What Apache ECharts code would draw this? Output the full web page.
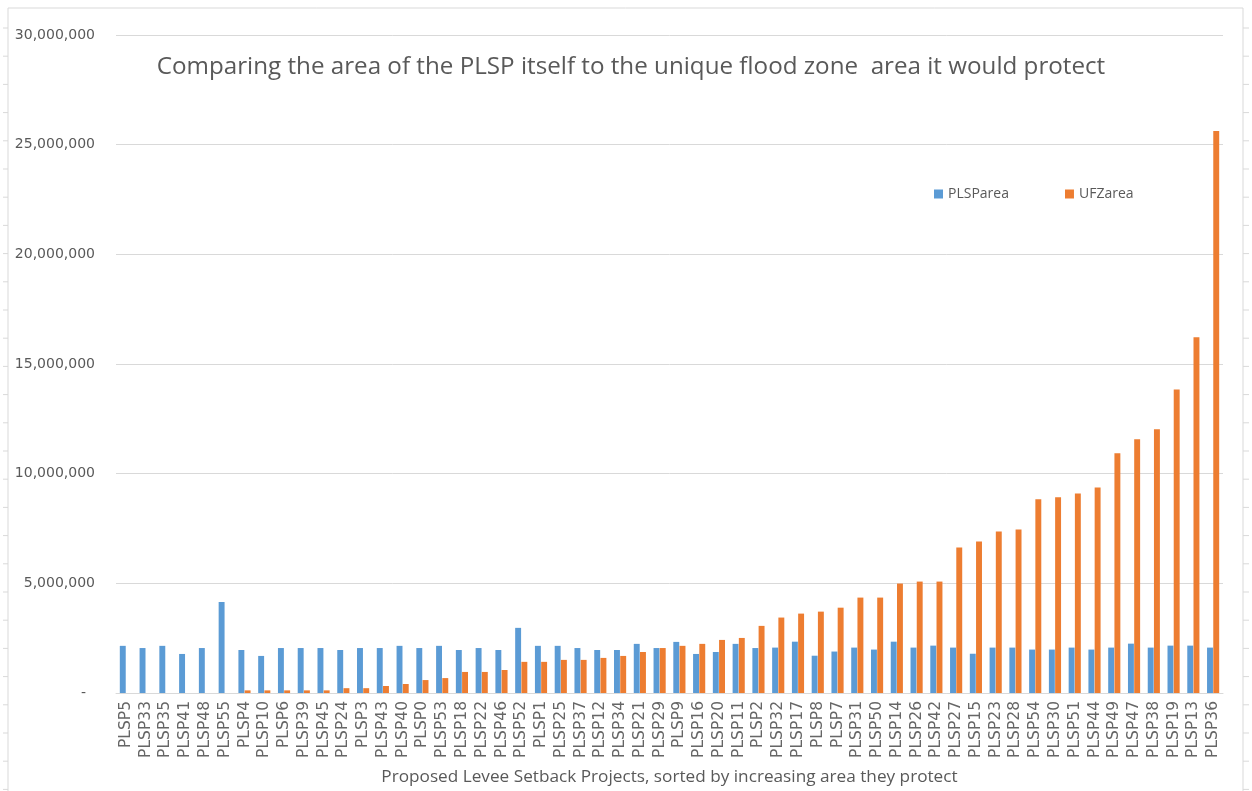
<!DOCTYPE html>
<html>
<head>
<meta charset="utf-8">
<title>PLSP area vs unique flood zone area</title>
<script src="https://cdn.jsdelivr.net/npm/echarts@6/dist/echarts.min.js"></script>
<style>
  html, body { margin: 0; padding: 0; background: #ffffff; overflow: hidden; }
  #chart { width: 1252px; height: 791px; }
</style>
</head>
<body>
<div id="chart"></div>
<script>
// Projects, sorted by the unique flood zone area they protect
const projects = [
  'PLSP5', 'PLSP33', 'PLSP35', 'PLSP41', 'PLSP48', 'PLSP55', 'PLSP4', 'PLSP10',
  'PLSP6', 'PLSP39', 'PLSP45', 'PLSP24', 'PLSP3', 'PLSP43', 'PLSP40', 'PLSP0',
  'PLSP53', 'PLSP18', 'PLSP22', 'PLSP46', 'PLSP52', 'PLSP1', 'PLSP25', 'PLSP37',
  'PLSP12', 'PLSP34', 'PLSP21', 'PLSP29', 'PLSP9', 'PLSP16', 'PLSP20', 'PLSP11',
  'PLSP2', 'PLSP32', 'PLSP17', 'PLSP8', 'PLSP7', 'PLSP31', 'PLSP50', 'PLSP14',
  'PLSP26', 'PLSP42', 'PLSP27', 'PLSP15', 'PLSP23', 'PLSP28', 'PLSP54', 'PLSP30',
  'PLSP51', 'PLSP44', 'PLSP49', 'PLSP47', 'PLSP38', 'PLSP19', 'PLSP13', 'PLSP36'
];

// Area of each setback project itself
const plspArea = [
  2150000, 2050000, 2150000, 1780000, 2050000, 4150000, 1960000, 1690000,
  2050000, 2050000, 2050000, 1960000, 2050000, 2050000, 2150000, 2050000,
  2150000, 1960000, 2050000, 1960000, 2970000, 2150000, 2150000, 2050000,
  1960000, 1960000, 2240000, 2050000, 2330000, 1780000, 1870000, 2240000,
  2050000, 2070000, 2340000, 1700000, 1890000, 2070000, 1980000, 2340000,
  2070000, 2160000, 2070000, 1790000, 2070000, 2070000, 1980000, 1980000,
  2070000, 1980000, 2070000, 2250000, 2070000, 2160000, 2160000, 2070000
];

// Unique flood zone area each project would protect
const ufzArea = [
  0, 0, 0, 0, 0, 0, 120000, 120000,
  120000, 120000, 120000, 220000, 220000, 320000, 410000, 590000,
  680000, 960000, 960000, 1050000, 1420000, 1420000, 1510000, 1510000,
  1600000, 1690000, 1870000, 2050000, 2150000, 2240000, 2420000, 2510000,
  3060000, 3440000, 3620000, 3710000, 3890000, 4350000, 4350000, 4990000,
  5080000, 5080000, 6630000, 6910000, 7360000, 7450000, 8830000, 8920000,
  9100000, 9370000, 10930000, 11570000, 12020000, 13840000, 16220000, 25620000
];

const yMin = 0;
const yMax = 30000000;
const yStep = 5000000;

const seriesNames = ['PLSParea', 'UFZarea'];
const titleText = 'Comparing the area of the PLSP itself to the unique flood zone  area it would protect';
const xAxisTitle = 'Proposed Levee Setback Projects, sorted by increasing area they protect';

const textGray = '#595959';
const gridGray = '#d9d9d9';
const font = '"Open Sans", "Liberation Sans", sans-serif';
const tickFont = '"DejaVu Sans", "Open Sans", sans-serif';

// Light frame with ruler-style ticks around the chart area
const frame = [];
frame.push({
  type: 'rect',
  shape: { x: 8, y: 8, width: 1235, height: 800 },
  style: { fill: 'none', stroke: gridGray, lineWidth: 1 },
  silent: true
});
for (let y = 28; y < 791; y += 28.2) {
  frame.push({ type: 'line', shape: { x1: 3, y1: y, x2: 8, y2: y }, style: { stroke: gridGray, lineWidth: 1 }, silent: true });
  frame.push({ type: 'line', shape: { x1: 1243, y1: y, x2: 1249, y2: y }, style: { stroke: gridGray, lineWidth: 1 }, silent: true });
}

const chart = echarts.init(document.getElementById('chart'), null, { renderer: 'canvas' });

chart.setOption({
  animation: false,
  backgroundColor: '#ffffff',
  title: {
    text: titleText,
    left: 626,
    top: 50,
    textAlign: 'center',
    textStyle: { color: textGray, fontFamily: font, fontSize: 24.2, fontWeight: 'normal' }
  },
  legend: {
    data: seriesNames,
    left: 929,
    top: 182,
    icon: 'rect',
    itemWidth: 9,
    itemHeight: 9,
    itemGap: 56,
    textStyle: { color: textGray, fontFamily: font, fontSize: 14 }
  },
  grid: {
    left: 116,
    right: 29,
    top: 35,
    bottom: 90,
    containLabel: false
  },
  xAxis: {
    type: 'category',
    data: projects,
    name: xAxisTitle,
    nameLocation: 'middle',
    nameGap: 76,
    nameTextStyle: { color: textGray, fontFamily: font, fontSize: 17.2 },
    axisLine: { lineStyle: { color: gridGray, width: 1 } },
    axisTick: { show: false },
    axisLabel: {
      interval: 0,
      rotate: 90,
      margin: 8,
      color: '#666666',
      fontFamily: tickFont,
      fontSize: 15.5
    }
  },
  yAxis: {
    type: 'value',
    min: yMin,
    max: yMax,
    interval: yStep,
    axisLine: { show: false },
    axisTick: { show: false },
    splitLine: { lineStyle: { color: gridGray, width: 1 } },
    axisLabel: {
      margin: 21,
      color: textGray,
      fontFamily: tickFont,
      fontSize: 14,
      formatter: function (v) {
        return v === 0 ? '-  ' : v.toLocaleString('en-US');
      }
    }
  },
  series: [
    {
      name: seriesNames[0],
      type: 'bar',
      data: plspArea,
      barWidth: '30%',
      barGap: '5%',
      itemStyle: { color: '#5b9bd5' }
    },
    {
      name: seriesNames[1],
      type: 'bar',
      data: ufzArea,
      barWidth: '30%',
      itemStyle: { color: '#ed7d31' }
    }
  ],
  graphic: frame
});
</script>
</body>
</html>
